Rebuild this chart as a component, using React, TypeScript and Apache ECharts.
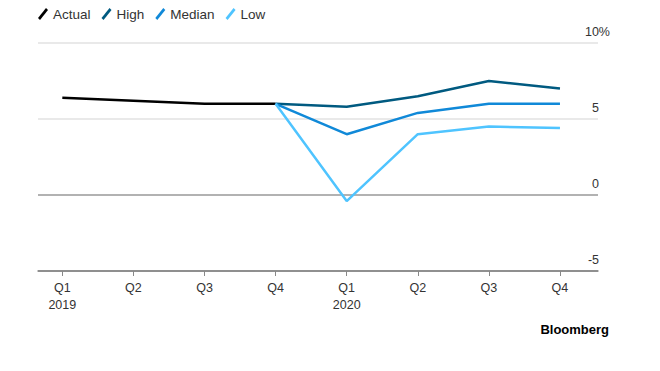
import React, { useEffect, useRef } from "react";
import * as echarts from "echarts";

const categories = ["Q1\n2019", "Q2", "Q3", "Q4", "Q1\n2020", "Q2", "Q3", "Q4"];
const actual = [6.4, 6.2, 6.0, 6.0, null, null, null, null];
const high = [null, null, null, 6.0, 5.8, 6.5, 7.5, 7.0];
const median = [null, null, null, 6.0, 4.0, 5.4, 6.0, 6.0];
const low = [null, null, null, 6.0, -0.4, 4.0, 4.5, 4.4];
const yTicks = [-5, 0, 5, 10];

const seriesDefs = [
  { name: "Actual", data: actual, color: "#000000" },
  { name: "High", data: high, color: "#005a80" },
  { name: "Median", data: median, color: "#1089d8" },
  { name: "Low", data: low, color: "#4fc4ff" },
];

const FONT = "Liberation Sans, Arial, sans-serif";
const ICON = "path://M0,10 L8,0 L10,1.8 L2,11.8 Z";

export default function App() {
  const ref = useRef<HTMLDivElement>(null);
  useEffect(() => {
    if (!ref.current) return;
    const chart = echarts.init(ref.current, null, { renderer: "svg" });
    chart.setOption({
      animation: false,
      backgroundColor: "#ffffff",
      textStyle: { fontFamily: FONT },
      legend: {
        left: 33,
        top: 2,
        itemWidth: 10,
        itemHeight: 12,
        itemGap: 11,
        icon: ICON,
        textStyle: { fontSize: 13.5, color: "#333", fontFamily: FONT },
        data: seriesDefs.map((s) => ({ name: s.name, icon: ICON, itemStyle: { color: s.color } })),
      },
      grid: { left: 38, right: 62, top: 43, bottom: 100 },
      xAxis: {
        type: "value",
        min: -0.342,
        max: 7.535,
        axisLine: { onZero: false, lineStyle: { color: "#888", width: 1.5 } },
        axisTick: {
          show: true,
          customValues: categories.map((_, i) => i),
          length: 5,
          lineStyle: { color: "#888" },
        },
        splitLine: { show: false },
        axisLabel: {
          customValues: categories.map((_, i) => i),
          formatter: (v: number) => categories[Math.round(v)] ?? "",
          fontSize: 12.5,
          color: "#333",
          lineHeight: 17,
          margin: 8,
          fontFamily: FONT,
        },
      },
      yAxis: {
        type: "value",
        position: "right",
        min: -5,
        max: 10,
        interval: 5,
        axisLine: { show: false },
        axisTick: { show: false },
        splitLine: {
          show: true,
          lineStyle: { color: ["#888", "#999", "#e2e2e2", "#e2e2e2"], width: 1.5 },
        },
        axisLabel: {
          align: "right",
          verticalAlign: "bottom",
          margin: 12,
          padding: [0, 0, 5, 0],
          fontSize: 12.5,
          color: "#333",
          fontFamily: FONT,
          formatter: (v: number) => (v === yTicks[yTicks.length - 1] ? "{n|" + v + "%}" : "{m|" + v + "}"),
          rich: {
            n: { fontSize: 12.5, color: "#333", fontFamily: FONT },
            m: { fontSize: 12.5, color: "#333", fontFamily: FONT, padding: [0, 11, 0, 0] },
          },
        },
      },
      series: seriesDefs.map((s) => ({
        name: s.name,
        type: "line",
        data: s.data.map((v, i) => [i, v]),
        symbol: "none",
        lineStyle: { color: s.color, width: 2.5 },
        itemStyle: { color: s.color },
        connectNulls: false,
      })),
      graphic: [
        {
          type: "text",
          right: 51,
          top: 323,
          style: { text: "Bloomberg", font: "bold 13px " + FONT, fill: "#000" },
        },
      ],
    });
    return () => chart.dispose();
  }, []);
  return (
    <div
      ref={ref}
      style={{ position: "absolute", left: 0, top: 0, width: 660, height: 371 }}
    />
  );
}
